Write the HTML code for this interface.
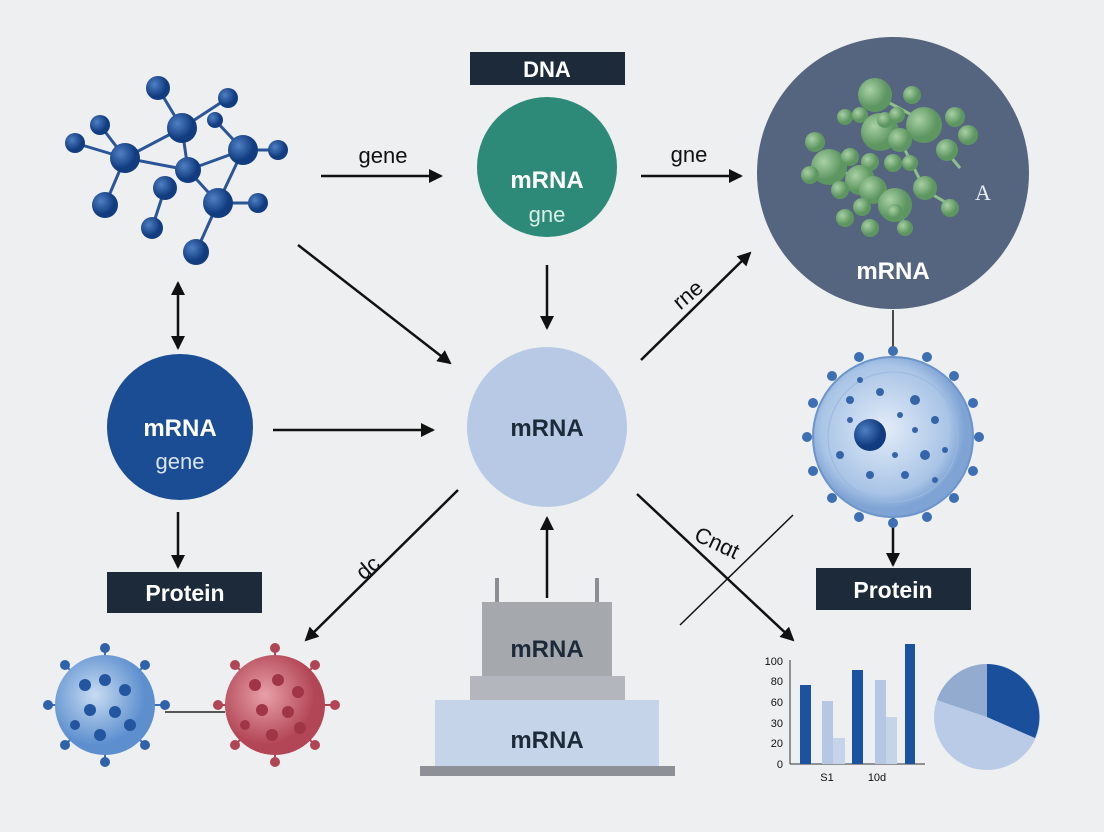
<!DOCTYPE html>
<html><head><style>
body{margin:0;background:#eeeff1;}
svg{display:block;font-family:"Liberation Sans",sans-serif;}
</style></head><body>
<svg width="1104" height="832" viewBox="0 0 1104 832">
<defs>
<marker id="ah" markerWidth="10" markerHeight="10" refX="8" refY="5" orient="auto" markerUnits="userSpaceOnUse">
<path d="M0,0 L10,5 L0,10 Z" fill="#111"/></marker>
<marker id="ah2" markerWidth="14" markerHeight="14" refX="12" refY="7" orient="auto" markerUnits="userSpaceOnUse">
<path d="M0,0 L14,7 L0,14 Z" fill="#111"/></marker>
<marker id="ahs" markerWidth="14" markerHeight="14" refX="2" refY="7" orient="auto" markerUnits="userSpaceOnUse">
<path d="M14,0 L0,7 L14,14 Z" fill="#111"/></marker>
<radialGradient id="bb" cx="35%" cy="35%"><stop offset="0" stop-color="#4f7fc4"/><stop offset="1" stop-color="#123c80"/></radialGradient>
<radialGradient id="gb" cx="35%" cy="35%"><stop offset="0" stop-color="#a8d0a4"/><stop offset="1" stop-color="#5e9661"/></radialGradient>
<radialGradient id="vb" cx="40%" cy="40%"><stop offset="0" stop-color="#c8dcf2"/><stop offset="1" stop-color="#5d8fcf"/></radialGradient>
<radialGradient id="vr" cx="40%" cy="40%"><stop offset="0" stop-color="#e8a0a8"/><stop offset="1" stop-color="#b24556"/></radialGradient>
<radialGradient id="vc" cx="45%" cy="45%"><stop offset="0" stop-color="#e2ecf8"/><stop offset="0.8" stop-color="#a9c4e6"/><stop offset="1" stop-color="#7ea3d4"/></radialGradient>
</defs>

<!-- top-left molecule -->
<g stroke="#2a5596" stroke-width="3">
<line x1="158" y1="88" x2="182" y2="128"/><line x1="182" y1="128" x2="228" y2="98"/><line x1="182" y1="128" x2="125" y2="158"/>
<line x1="100" y1="125" x2="125" y2="158"/><line x1="75" y1="143" x2="125" y2="158"/><line x1="125" y1="158" x2="105" y2="205"/>
<line x1="125" y1="158" x2="188" y2="170"/><line x1="188" y1="170" x2="243" y2="150"/><line x1="243" y1="150" x2="278" y2="150"/>
<line x1="188" y1="170" x2="218" y2="203"/><line x1="218" y1="203" x2="258" y2="203"/><line x1="218" y1="203" x2="196" y2="252"/>
<line x1="165" y1="188" x2="152" y2="228"/><line x1="182" y1="128" x2="188" y2="170"/><line x1="243" y1="150" x2="218" y2="203"/>
<line x1="215" y1="120" x2="243" y2="150"/>
</g>
<g fill="url(#bb)">
<circle cx="158" cy="88" r="12"/><circle cx="228" cy="98" r="10"/><circle cx="182" cy="128" r="15"/><circle cx="100" cy="125" r="10"/>
<circle cx="75" cy="143" r="10"/><circle cx="125" cy="158" r="15"/><circle cx="243" cy="150" r="15"/><circle cx="278" cy="150" r="10"/>
<circle cx="188" cy="170" r="13"/><circle cx="165" cy="188" r="12"/><circle cx="105" cy="205" r="13"/><circle cx="218" cy="203" r="15"/>
<circle cx="258" cy="203" r="10"/><circle cx="152" cy="228" r="11"/><circle cx="196" cy="252" r="13"/><circle cx="215" cy="120" r="8"/>
</g>

<!-- DNA box -->
<rect x="470" y="52" width="155" height="33" fill="#1c2a3a"/>
<text x="547" y="77" font-size="22" font-weight="bold" fill="#fff" text-anchor="middle">DNA</text>

<!-- green circle -->
<circle cx="547" cy="167" r="70" fill="#2e8a78"/>
<text x="547" y="188" font-size="24" font-weight="bold" fill="#fff" text-anchor="middle">mRNA</text>
<text x="547" y="222" font-size="22" fill="#d8efe8" text-anchor="middle">gne</text>

<!-- big slate circle -->
<circle cx="893" cy="173" r="136" fill="#56657f"/>
<g stroke="#8fbf8c" stroke-width="3">
<line x1="875" y1="95" x2="930" y2="125"/><line x1="880" y1="130" x2="900" y2="140"/><line x1="830" y1="165" x2="860" y2="180"/>
<line x1="900" y1="140" x2="925" y2="190"/><line x1="925" y1="190" x2="950" y2="205"/><line x1="945" y1="150" x2="960" y2="168"/>
<line x1="895" y1="205" x2="905" y2="225"/>
</g>
<g fill="url(#gb)">
<circle cx="875" cy="95" r="17"/><circle cx="912" cy="95" r="9"/><circle cx="845" cy="117" r="8"/><circle cx="860" cy="115" r="8"/>
<circle cx="880" cy="132" r="19"/><circle cx="885" cy="120" r="8"/><circle cx="897" cy="115" r="8"/><circle cx="924" cy="125" r="18"/>
<circle cx="955" cy="117" r="10"/><circle cx="968" cy="135" r="10"/><circle cx="947" cy="150" r="11"/><circle cx="900" cy="140" r="12"/>
<circle cx="815" cy="142" r="10"/><circle cx="829" cy="167" r="18"/><circle cx="850" cy="157" r="9"/><circle cx="870" cy="162" r="9"/>
<circle cx="810" cy="175" r="9"/><circle cx="860" cy="180" r="15"/><circle cx="893" cy="163" r="9"/><circle cx="910" cy="163" r="8"/>
<circle cx="925" cy="188" r="12"/><circle cx="873" cy="190" r="14"/><circle cx="895" cy="205" r="17"/><circle cx="840" cy="190" r="9"/>
<circle cx="862" cy="207" r="9"/><circle cx="845" cy="218" r="9"/><circle cx="870" cy="228" r="9"/><circle cx="905" cy="228" r="8"/>
<circle cx="950" cy="208" r="9"/><circle cx="895" cy="212" r="8"/>
</g>
<text x="975" y="200" font-size="22" fill="#e8eef5" font-family="Liberation Serif,serif">A</text>
<text x="893" y="279" font-size="24" font-weight="bold" fill="#fff" text-anchor="middle">mRNA</text>

<!-- blue circle -->
<circle cx="180" cy="427" r="73" fill="#1a4d94"/>
<text x="180" y="436" font-size="24" font-weight="bold" fill="#fff" text-anchor="middle">mRNA</text>
<text x="180" y="469" font-size="22" fill="#d8e4f4" text-anchor="middle">gene</text>

<!-- center circle -->
<circle cx="547" cy="427" r="80" fill="#b7c9e4"/>
<text x="547" y="436" font-size="24" font-weight="bold" fill="#1c2a3a" text-anchor="middle">mRNA</text>

<!-- protein boxes -->
<rect x="107" y="572" width="155" height="41" fill="#1c2a3a"/>
<text x="185" y="601" font-size="23" font-weight="bold" fill="#fff" text-anchor="middle">Protein</text>
<rect x="816" y="568" width="155" height="42" fill="#1c2a3a"/>
<text x="893" y="598" font-size="23" font-weight="bold" fill="#fff" text-anchor="middle">Protein</text>

<!-- arrows -->
<g stroke="#111" stroke-width="2.5" fill="none">
<line x1="321" y1="176" x2="441" y2="176" marker-end="url(#ah2)"/>
<line x1="641" y1="176" x2="741" y2="176" marker-end="url(#ah2)"/>
<line x1="547" y1="265" x2="547" y2="328" marker-end="url(#ah2)"/>
<line x1="298" y1="245" x2="450" y2="363" marker-end="url(#ah2)"/>
<line x1="641" y1="360" x2="750" y2="253" marker-end="url(#ah2)"/>
<line x1="178" y1="283" x2="178" y2="348" marker-end="url(#ah2)" marker-start="url(#ahs)"/>
<line x1="273" y1="430" x2="433" y2="430" marker-end="url(#ah2)"/>
<line x1="178" y1="512" x2="178" y2="567" marker-end="url(#ah2)"/>
<line x1="458" y1="490" x2="306" y2="640" marker-end="url(#ah2)"/>
<line x1="547" y1="598" x2="547" y2="518" marker-end="url(#ah2)"/>
<line x1="637" y1="494" x2="793" y2="640" marker-end="url(#ah2)"/>
<line x1="893" y1="515" x2="893" y2="565" marker-end="url(#ah2)"/>
<line x1="893" y1="310" x2="893" y2="350" stroke-width="1.5"/>
<line x1="680" y1="625" x2="793" y2="515" stroke-width="1.5"/>
</g>
<text x="383" y="163" font-size="22" fill="#111" text-anchor="middle">gene</text>
<text x="689" y="162" font-size="22" fill="#111" text-anchor="middle">gne</text>
<text x="688" y="302" font-size="22" fill="#111" text-anchor="middle" transform="rotate(-40 688 295)">rne</text>
<text x="368" y="575" font-size="22" fill="#111" text-anchor="middle" transform="rotate(-40 368 568)">dc</text>
<text x="716" y="550" font-size="22" fill="#111" text-anchor="middle" transform="rotate(25 716 545)">Cnɑt</text>

<!-- virus cell right -->
<g stroke="#4b79b8" stroke-width="2">
<line x1="893" y1="357" x2="893" y2="517"/><line x1="813" y1="437" x2="973" y2="437"/>
<line x1="836" y1="380" x2="950" y2="494"/><line x1="950" y1="380" x2="836" y2="494"/>
<line x1="862" y1="363" x2="924" y2="511"/><line x1="924" y1="363" x2="862" y2="511"/>
<line x1="819" y1="406" x2="967" y2="468"/><line x1="819" y1="468" x2="967" y2="406"/>
</g>
<g fill="#3d6fb3">
<circle cx="893" cy="351" r="5"/><circle cx="893" cy="523" r="5"/><circle cx="807" cy="437" r="5"/><circle cx="979" cy="437" r="5"/>
<circle cx="832" cy="376" r="5"/><circle cx="954" cy="498" r="5"/><circle cx="954" cy="376" r="5"/><circle cx="832" cy="498" r="5"/>
<circle cx="859" cy="357" r="5"/><circle cx="927" cy="517" r="5"/><circle cx="927" cy="357" r="5"/><circle cx="859" cy="517" r="5"/>
<circle cx="813" cy="403" r="5"/><circle cx="973" cy="471" r="5"/><circle cx="813" cy="471" r="5"/><circle cx="973" cy="403" r="5"/>
</g>
<circle cx="893" cy="437" r="80" fill="url(#vc)" stroke="#6c95cc" stroke-width="2"/>
<circle cx="893" cy="437" r="65" fill="none" stroke="#9ab8df" stroke-width="1"/>
<g fill="#3565a8">
<circle cx="870" cy="435" r="16" fill="url(#bb)"/>
<circle cx="850" cy="400" r="4"/><circle cx="880" cy="392" r="4"/><circle cx="915" cy="400" r="5"/><circle cx="935" cy="420" r="4"/>
<circle cx="925" cy="455" r="5"/><circle cx="905" cy="475" r="4"/><circle cx="870" cy="475" r="4"/><circle cx="840" cy="455" r="4"/>
<circle cx="915" cy="430" r="3"/><circle cx="900" cy="415" r="3"/><circle cx="945" cy="450" r="3"/><circle cx="850" cy="420" r="3"/>
<circle cx="895" cy="455" r="3"/><circle cx="935" cy="480" r="3"/><circle cx="860" cy="380" r="3"/>
</g>

<!-- blue virus -->
<g stroke="#3d6fb3" stroke-width="2">
<line x1="105" y1="645" x2="105" y2="765"/><line x1="45" y1="705" x2="165" y2="705"/>
<line x1="63" y1="663" x2="147" y2="747"/><line x1="147" y1="663" x2="63" y2="747"/>
</g>
<g fill="#2f62a8"><circle cx="105" cy="648" r="5"/><circle cx="105" cy="762" r="5"/><circle cx="48" cy="705" r="5"/><circle cx="165" cy="705" r="5"/>
<circle cx="65" cy="665" r="5"/><circle cx="145" cy="745" r="5"/><circle cx="145" cy="665" r="5"/><circle cx="65" cy="745" r="5"/></g>
<circle cx="105" cy="705" r="50" fill="url(#vb)"/>
<g fill="#2456a0"><circle cx="85" cy="685" r="6"/><circle cx="105" cy="680" r="6"/><circle cx="125" cy="690" r="6"/><circle cx="90" cy="710" r="6"/>
<circle cx="115" cy="712" r="6"/><circle cx="100" cy="735" r="6"/><circle cx="130" cy="725" r="6"/><circle cx="75" cy="725" r="5"/></g>
<line x1="165" y1="712" x2="225" y2="712" stroke="#555" stroke-width="2"/>

<!-- red virus -->
<g stroke="#b04555" stroke-width="2">
<line x1="275" y1="645" x2="275" y2="765"/><line x1="215" y1="705" x2="335" y2="705"/>
<line x1="233" y1="663" x2="317" y2="747"/><line x1="317" y1="663" x2="233" y2="747"/>
</g>
<g fill="#b04555"><circle cx="275" cy="648" r="5"/><circle cx="275" cy="762" r="5"/><circle cx="218" cy="705" r="5"/><circle cx="335" cy="705" r="5"/>
<circle cx="235" cy="665" r="5"/><circle cx="315" cy="745" r="5"/><circle cx="315" cy="665" r="5"/><circle cx="235" cy="745" r="5"/></g>
<circle cx="275" cy="705" r="50" fill="url(#vr)"/>
<g fill="#a03548"><circle cx="255" cy="685" r="6"/><circle cx="278" cy="680" r="6"/><circle cx="298" cy="692" r="6"/><circle cx="262" cy="710" r="6"/>
<circle cx="288" cy="712" r="6"/><circle cx="272" cy="735" r="6"/><circle cx="300" cy="728" r="6"/><circle cx="245" cy="725" r="5"/></g>

<!-- stacked blocks -->
<rect x="495" y="578" width="4" height="26" fill="#8a8e94"/><rect x="595" y="578" width="4" height="26" fill="#8a8e94"/>
<rect x="482" y="602" width="130" height="74" fill="#a5a8ac"/>
<text x="547" y="657" font-size="24" font-weight="bold" fill="#1c2a3a" text-anchor="middle">mRNA</text>
<rect x="470" y="676" width="155" height="24" fill="#b3b7bd"/>
<rect x="435" y="700" width="224" height="66" fill="#c6d4ea"/>
<text x="547" y="748" font-size="24" font-weight="bold" fill="#1c2a3a" text-anchor="middle">mRNA</text>
<rect x="420" y="766" width="255" height="10" fill="#8d9197"/>

<!-- bar chart -->
<g font-size="11" fill="#111" text-anchor="end">
<text x="783" y="665">100</text><text x="783" y="685">80</text><text x="783" y="706">60</text>
<text x="783" y="727">30</text><text x="783" y="747">20</text><text x="783" y="768">0</text>
</g>
<line x1="790" y1="660" x2="790" y2="764" stroke="#333" stroke-width="1"/>
<line x1="790" y1="764" x2="925" y2="764" stroke="#333" stroke-width="1"/>
<rect x="800" y="685" width="11" height="79" fill="#1c53a0"/>
<rect x="822" y="701" width="11" height="63" fill="#b5c7e2"/>
<rect x="833" y="738" width="12" height="26" fill="#c6d4ea"/>
<rect x="852" y="670" width="11" height="94" fill="#1c53a0"/>
<rect x="875" y="680" width="11" height="84" fill="#b5c7e2"/>
<rect x="886" y="717" width="11" height="47" fill="#c6d4ea"/>
<rect x="905" y="644" width="10" height="120" fill="#1c53a0"/>
<text x="827" y="781" font-size="11" fill="#111" text-anchor="middle">S1</text>
<text x="877" y="781" font-size="11" fill="#111" text-anchor="middle">10d</text>

<!-- pie -->
<circle cx="987" cy="717" r="53" fill="#b9cbe6"/>
<path d="M987,717 L987,664 A53,53 0 0 1 1035,738 Z" fill="#1a4f9c"/>
<path d="M987,717 L987,664 A53,53 0 0 0 937,700 Z" fill="#93abcf"/>
</svg>
</body></html>
